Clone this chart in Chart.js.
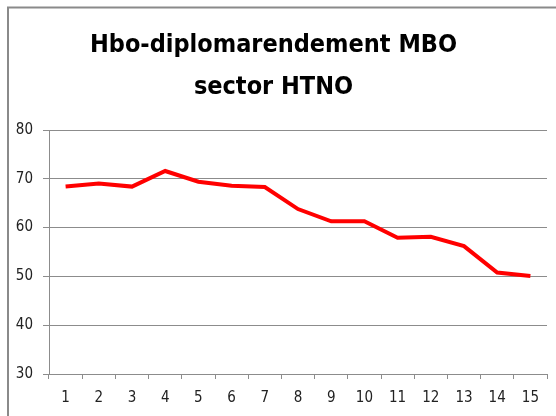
<!DOCTYPE html>
<html>
<head>
<meta charset="utf-8">
<script src="https://cdn.jsdelivr.net/npm/chart.js@4.4.1/dist/chart.umd.min.js"></script>
<style>
  html, body { margin: 0; padding: 0; background: #fff; }
  #wrap { width: 556px; height: 416px; }
</style>
</head>
<body>
<div id="wrap"><canvas id="myChart" width="556" height="416"></canvas></div>
<script>
// Chart data
const years = ['1', '2', '3', '4', '5', '6', '7', '8', '9', '10', '11', '12', '13', '14', '15'];
const rendement = [68.4, 69.05, 68.4, 71.6, 69.4, 68.6, 68.3, 63.8, 61.3, 61.3, 57.9, 58.1, 56.2, 50.8, 50.1];
const titleLines = ['Hbo-diplomarendement MBO', 'sector HTNO'];

const fontFamily = "'Liberation Sans Narrow', 'DejaVu Sans Condensed', sans-serif";
const gridGray = '#8c8c8c';

// Draws the grey frame round the chart (cut off at right and bottom)
const framePlugin = {
    id: 'frame',
    beforeDraw(chart) {
        const ctx = chart.ctx;
        ctx.save();
        ctx.fillStyle = '#fff';
        ctx.fillRect(0, 0, chart.width, chart.height);
        ctx.strokeStyle = '#8a8a8a';
        ctx.lineWidth = 2;
        ctx.beginPath();
        ctx.moveTo(8, chart.height + 5);
        ctx.lineTo(8, 7.5);
        ctx.lineTo(chart.width + 5, 7.5);
        ctx.stroke();
        ctx.restore();
    }
};

let ctx = document.getElementById('myChart').getContext('2d');
let myChart = new Chart(ctx, {
    type: 'line',
    data: {
        labels: years,
        datasets: [{
            data: rendement,
            borderColor: '#ff0000',
            borderWidth: 4,
            pointRadius: 0,
            tension: 0,
            fill: false
        }]
    },
    options: {
        responsive: false,
        animation: false,
        layout: {
            padding: { left: 0, right: 9, top: 0, bottom: 0 }
        },
        plugins: {
            legend: { display: false },
            tooltip: { enabled: false },
            title: {
                display: true,
                text: titleLines,
                color: '#000',
                font: { family: fontFamily, size: 25, weight: 'bold', lineHeight: 1.68 },
                padding: { top: 24, bottom: 22 }
            }
        },
        scales: {
            x: {
                offset: true,
                grid: {
                    offset: true,
                    drawOnChartArea: false,
                    drawTicks: true,
                    tickLength: 5,
                    color: gridGray
                },
                border: { display: true, color: gridGray },
                ticks: {
                    color: '#222',
                    padding: 10,
                    maxRotation: 0,
                    font: { family: fontFamily, size: 15 }
                },
                afterFit: function(scale) {
                    scale.height = 42;
                }
            },
            y: {
                min: 30,
                max: 80,
                grid: {
                    color: gridGray,
                    tickLength: 6,
                    drawTicks: true
                },
                border: { display: true, color: gridGray },
                ticks: {
                    stepSize: 10,
                    color: '#222',
                    padding: 10,
                    font: { family: fontFamily, size: 15 }
                },
                afterFit: function(scale) {
                    scale.width = 49;
                }
            }
        }
    },
    plugins: [framePlugin]
});
</script>
</body>
</html>
